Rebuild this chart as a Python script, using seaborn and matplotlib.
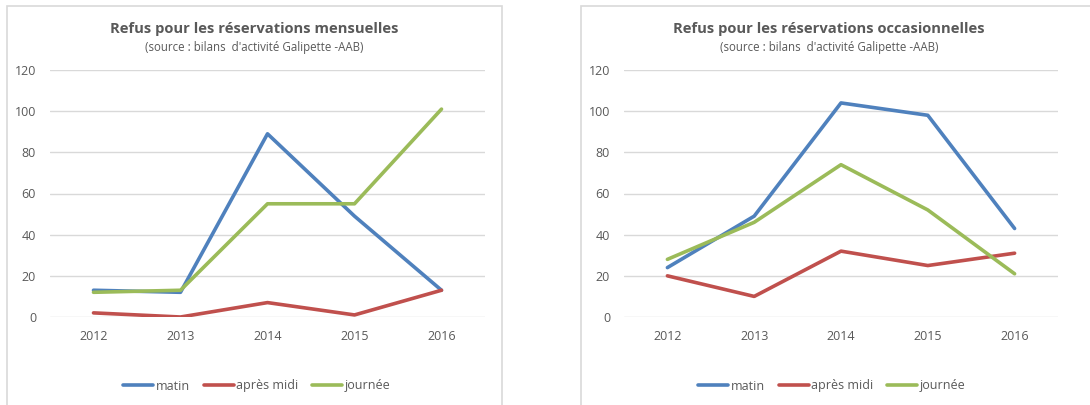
import pandas as pd
import numpy as np
import matplotlib.pyplot as plt
import seaborn as sns
from matplotlib.patches import Rectangle

# data
annees = [2012, 2013, 2014, 2015, 2016]
series = ['matin', 'après midi', 'journée']

mens_matin = [13, 12, 89, 49, 13]
mens_apres_midi = [2, 0, 7, 1, 13]
mens_journee = [12, 13, 55, 55, 101]

occ_matin = [24, 49, 104, 98, 43]
occ_apres_midi = [20, 10, 32, 25, 31]
occ_journee = [28, 46, 74, 52, 21]

titres = ['Refus pour les réservations mensuelles',
          'Refus pour les réservations occasionnelles']
sous_titre = "(source : bilans  d'activité Galipette -AAB)"

couleurs = ['#4F81BD', '#C0504D', '#9BBB59']


def long_form(matin, apres, journee):
    rows = []
    for nom, vals in zip(series, [matin, apres, journee]):
        for a, v in zip(annees, vals):
            rows.append({'année': a, 'refus': v, 'période': nom})
    return pd.DataFrame(rows)


df_mens = long_form(mens_matin, mens_apres_midi, mens_journee)
df_occ = long_form(occ_matin, occ_apres_midi, occ_journee)

sns.set_style('white')
plt.rcParams['font.family'] = ['Open Sans', 'DejaVu Sans']

W, H = 1090, 405
fig = plt.figure(figsize=(W / 100, H / 100), dpi=100)

# chart frames (pixel boxes converted to figure fractions)
for x0, x1 in [(7, 502), (581, 1095)]:
    fig.patches.append(Rectangle((x0 / W, -0.05), (x1 - x0) / W, (H - 6) / H + 0.05,
                                 transform=fig.transFigure, fill=False,
                                 edgecolor='#D9D9D9', linewidth=1.2))

# axes positions in pixels: left, right, top(120), bottom(0)
boites = [(50, 485), (624, 1058)]
centres = [254, 829]
for i, (df, (xl, xr)) in enumerate(zip([df_mens, df_occ], boites)):
    ax = fig.add_axes([xl / W, 1 - 317 / H, (xr - xl) / W, (317 - 70) / H])
    sns.lineplot(data=df, x='année', y='refus', hue='période', palette=couleurs,
                 linewidth=2.6, ax=ax, legend=False)
    ax.set_xlim(2011.5, 2016.5)
    ax.set_ylim(0, 120)
    ax.set_yticks(range(0, 121, 20))
    ax.set_xticks(annees)
    ax.grid(axis='y', color='#D9D9D9', linewidth=1)
    ax.set_axisbelow(True)
    for s in ax.spines.values():
        s.set_visible(False)
    ax.tick_params(colors='#595959', labelsize=9, length=0)
    ax.tick_params(axis='x', pad=9)
    ax.tick_params(axis='y', pad=10)
    ax.set_xlabel('')
    ax.set_ylabel('')

    fig.text(centres[i] / W, 1 - 29 / H, titres[i], ha='center', va='center',
             fontsize=10.6, fontweight='bold', color='#595959')
    fig.text(centres[i] / W, 1 - 48 / H, sous_titre, ha='center', va='center',
             fontsize=8.3, color='#595959')

    handles = [plt.Line2D([], [], color=c, linewidth=2.6) for c in couleurs]
    leg = fig.legend(handles, series, loc='center', ncol=3, frameon=False,
                     bbox_to_anchor=((centres[i] + 3) / W, 1 - 386 / H),
                     handlelength=2.4, handletextpad=0.2, columnspacing=1.1,
                     fontsize=9)
    for t in leg.get_texts():
        t.set_color('#595959')

fig.savefig('out.png', dpi=100)
